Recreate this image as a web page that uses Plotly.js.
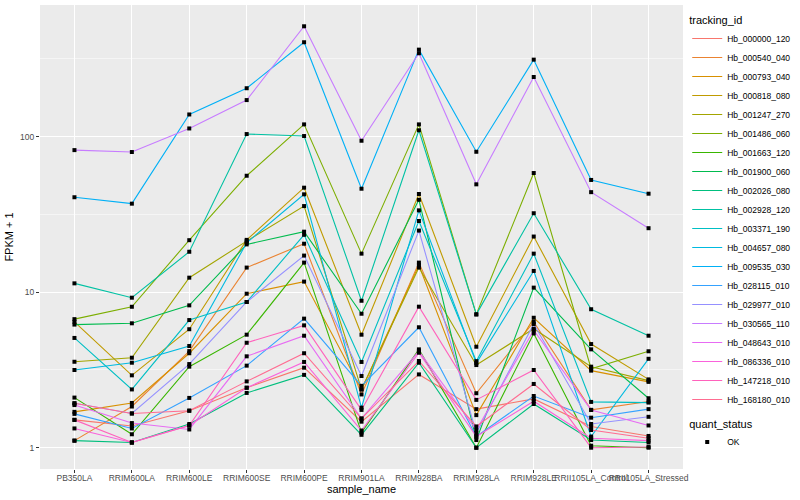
<!DOCTYPE html>
<html><head><meta charset="utf-8">
<script src="https://cdn.plot.ly/plotly-3.0.1.min.js"></script>
<style>html,body{margin:0;padding:0;background:#fff}#chart{width:800px;height:500px}</style>
</head><body><div id="chart"></div>
<script>
const samples = ["PB350LA","RRIM600LA","RRIM600LE","RRIM600SE","RRIM600PE","RRIM901LA","RRIM928BA","RRIM928LA","RRIM928LE","RRII105LA_Control","RRII105LA_Stressed"];
const trackingIds = ["Hb_000000_120","Hb_000540_040","Hb_000793_040","Hb_000818_080","Hb_001247_270","Hb_001486_060","Hb_001663_120","Hb_001900_060","Hb_002026_080","Hb_002928_120","Hb_003371_190","Hb_004657_080","Hb_009535_030","Hb_028115_010","Hb_029977_010","Hb_030565_110","Hb_048643_010","Hb_086336_010","Hb_147218_010","Hb_168180_010"];
const colors = ["#F8766D","#EA8331","#D89000","#C09B00","#A3A500","#7CAE00","#39B600","#00BB4E","#00BF7D","#00C1A3","#00BFC4","#00BAE0","#00B0F6","#35A2FF","#9590FF","#C77CFF","#E76BF3","#FA62DB","#FF62BC","#FF6C91"];

// FPKM + 1 per sample (order of samples)
const hb_000000_120 = [1.51, 1.38, 1.73, 2.43, 3.27, 1.47, 2.96, 1.77, 2.06, 1.37, 1.19];
const hb_000540_040 = [1.11, 1.84, 4.18, 14.4, 20.5, 2.20, 15.5, 2.24, 6.43, 1.75, 1.98];
const hb_000793_040 = [1.70, 1.94, 4.05, 9.78, 11.7, 2.37, 14.9, 1.62, 6.85, 3.13, 2.65];
const hb_000818_080 = [6.45, 2.92, 5.78, 21.7, 47.0, 5.33, 42.8, 4.46, 22.8, 4.64, 2.75];
const hb_001247_270 = [3.57, 3.79, 12.4, 21.3, 35.8, 2.37, 14.4, 3.40, 5.82, 3.32, 2.70];
const hb_001486_060 = [6.71, 8.06, 21.6, 56.1, 120, 17.7, 120, 7.20, 58.4, 3.22, 4.17];
const hb_001663_120 = [2.10, 1.22, 3.32, 5.33, 15.5, 1.25, 4.29, 1.00, 5.43, 1.03, 1.00];
const hb_001900_060 = [6.19, 6.31, 8.23, 20.3, 24.5, 7.27, 39.3, 1.12, 10.7, 4.29, 2.08];
const hb_002026_080 = [1.11, 1.08, 1.42, 2.25, 2.94, 1.21, 3.52, 1.00, 1.91, 1.12, 1.08];
const hb_002928_120 = [11.4, 9.22, 18.2, 104, 101, 8.81, 110, 7.20, 32.2, 7.77, 5.25];
const hb_003371_190 = [5.08, 2.37, 6.62, 8.65, 23.4, 3.56, 28.7, 3.60, 17.7, 1.97, 1.95];
const hb_004657_080 = [3.16, 3.52, 4.51, 20.8, 42.6, 1.81, 33.6, 3.50, 13.7, 1.18, 3.73];
const hb_009535_030 = [40.8, 37.1, 139, 205, 405, 46.3, 363, 80.0, 313, 52.7, 43.0];
const hb_028115_010 = [1.65, 1.33, 2.09, 3.37, 6.76, 2.50, 5.95, 1.18, 2.15, 1.56, 1.77];
const hb_029977_010 = [1.93, 1.66, 3.45, 8.65, 17.2, 2.89, 24.9, 1.24, 6.24, 1.42, 1.58];
const hb_030565_110 = [82.0, 79.7, 113, 172, 513, 94.2, 344, 49.4, 242, 44.0, 25.8];
const hb_048643_010 = [1.88, 1.44, 1.31, 3.87, 5.25, 1.54, 4.18, 1.30, 5.69, 1.75, 1.39];
const hb_086336_010 = [1.33, 1.08, 1.39, 2.43, 3.56, 1.29, 4.08, 1.18, 1.99, 1.15, 1.11];
const hb_147218_010 = [1.51, 1.08, 1.39, 4.73, 6.12, 1.75, 8.07, 2.03, 3.16, 1.00, 1.01];
const hb_168180_010 = [1.93, 1.66, 1.73, 2.67, 4.05, 1.54, 3.61, 1.37, 2.57, 1.30, 1.15];

const seriesValues = [hb_000000_120, hb_000540_040, hb_000793_040, hb_000818_080, hb_001247_270, hb_001486_060, hb_001663_120, hb_001900_060, hb_002026_080, hb_002928_120, hb_003371_190, hb_004657_080, hb_009535_030, hb_028115_010, hb_029977_010, hb_030565_110, hb_048643_010, hb_086336_010, hb_147218_010, hb_168180_010];
const quantStatus = "OK";

const FONT = "Liberation Sans, Arial, Helvetica, sans-serif";
const traces = seriesValues.map((vals, i) => ({
  type: "scatter", mode: "lines", x: samples, y: vals, name: trackingIds[i],
  line: {color: colors[i], width: 1.1}, legend: "legend", hoverinfo: "skip"
}));
const px = [], py = [];
seriesValues.forEach(vals => vals.forEach((v, j) => { px.push(samples[j]); py.push(v); }));
traces.push({
  type: "scatter", mode: "markers", x: px, y: py, name: quantStatus, legend: "legend2",
  marker: {color: "#000000", symbol: "square", size: 4}, hoverinfo: "skip"
});

const layout = {
  width: 800, height: 500,
  margin: {l: 40, r: 116, t: 5, b: 31},
  paper_bgcolor: "#FFFFFF", plot_bgcolor: "#EBEBEB",
  font: {family: FONT, size: 9, color: "#000000"},
  showlegend: true,
  xaxis: {
    type: "category", range: [-0.6, 10.6], tickangle: 0,
    showgrid: true, gridcolor: "#FFFFFF", gridwidth: 1.1, zeroline: false, showline: false,
    ticks: "outside", ticklen: 3, tickcolor: "#333333", tickwidth: 1,
    ticklabelstandoff: -2,
    tickfont: {family: FONT, size: 8.5, color: "#4D4D4D"},
    title: {text: "sample_name", font: {family: FONT, size: 11, color: "#000000"}, standoff: 0}
  },
  yaxis: {
    type: "log", range: [-0.137, 2.847],
    tickvals: [1, 10, 100], ticktext: ["1", "10", "100"],
    showgrid: true, gridcolor: "#FFFFFF", gridwidth: 1.1, zeroline: false, showline: false,
    ticks: "outside", ticklen: 3, tickcolor: "#333333", tickwidth: 1,
    tickfont: {family: FONT, size: 8.5, color: "#4D4D4D"},
    minor: {tickvals: [3.1623, 31.623, 316.23], showgrid: true, gridcolor: "#FFFFFF", gridwidth: 0.5, ticks: ""},
    title: {text: "FPKM + 1", font: {family: FONT, size: 11, color: "#000000"}, standoff: 4}
  },
  legend: {
    x: 1.005, xanchor: "left", y: 0.99, yanchor: "top",
    title: {text: "tracking_id", font: {family: FONT, size: 11, color: "#000000"}},
    font: {family: FONT, size: 8.5, color: "#000000"},
    bgcolor: "rgba(0,0,0,0)", itemwidth: 30, tracegroupgap: 0
  },
  legend2: {
    x: 1.005, xanchor: "left", y: 0.12, yanchor: "top",
    title: {text: "quant_status", font: {family: FONT, size: 11, color: "#000000"}},
    font: {family: FONT, size: 8.5, color: "#000000"},
    bgcolor: "rgba(0,0,0,0)", itemwidth: 30
  }
};
Plotly.newPlot("chart", traces, layout, {displayModeBar: false, staticPlot: true});
</script></body></html>
